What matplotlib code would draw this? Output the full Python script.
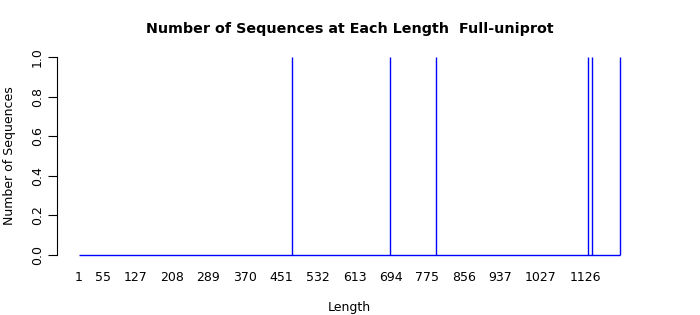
import numpy as np
import matplotlib
matplotlib.use("Agg")
import matplotlib.pyplot as plt

# sequence lengths seen and how many sequences have each
lengths = [475, 691, 795, 1131, 1141, 1203]
counts = [1, 1, 1, 1, 1, 1]
min_len = 1
max_len = 1203

tick_vals = [1, 55, 127, 208, 289, 370, 451, 532, 613, 694, 775, 856, 937, 1027, 1126]
y_ticks = [0.0, 0.2, 0.4, 0.6, 0.8, 1.0]

fig = plt.figure(figsize=(7, 3.15), dpi=100)
ax = fig.add_axes([57/700, 1 - 263/315, (642 - 57)/700, (263 - 49)/315])

span = max_len - min_len
ax.set_xlim(min_len - 0.04*span, max_len + 0.04*span)
ax.set_ylim(-0.04, 1.04)

blue = '#0000ff'
ax.hlines(0, min_len, max_len, color=blue, lw=1)
ax.vlines(lengths, 0, counts, color=blue, lw=1)

for side in ['top', 'right', 'bottom']:
    ax.spines[side].set_visible(False)
ax.spines['left'].set_bounds(0, 1)
ax.spines['left'].set_linewidth(0.8)

ax.set_xticks(tick_vals)
ax.set_xticklabels([str(v) for v in tick_vals], fontsize=9)
ax.tick_params(axis='x', length=0, pad=6)

ax.set_yticks(y_ticks)
ax.set_yticklabels(["%.1f" % v for v in y_ticks], fontsize=9, rotation=90, va='center')
ax.tick_params(axis='y', length=6.5, width=0.8, pad=3)

ax.set_xlabel("Length", fontsize=9, labelpad=12)
ax.set_ylabel("Number of Sequences", fontsize=9, labelpad=11)
fig.suptitle("Number of Sequences at Each Length  Full-uniprot", fontsize=10.25,
             fontweight='bold', y=1 - 29/315, va='center')

fig.savefig("out.png", dpi=100)
